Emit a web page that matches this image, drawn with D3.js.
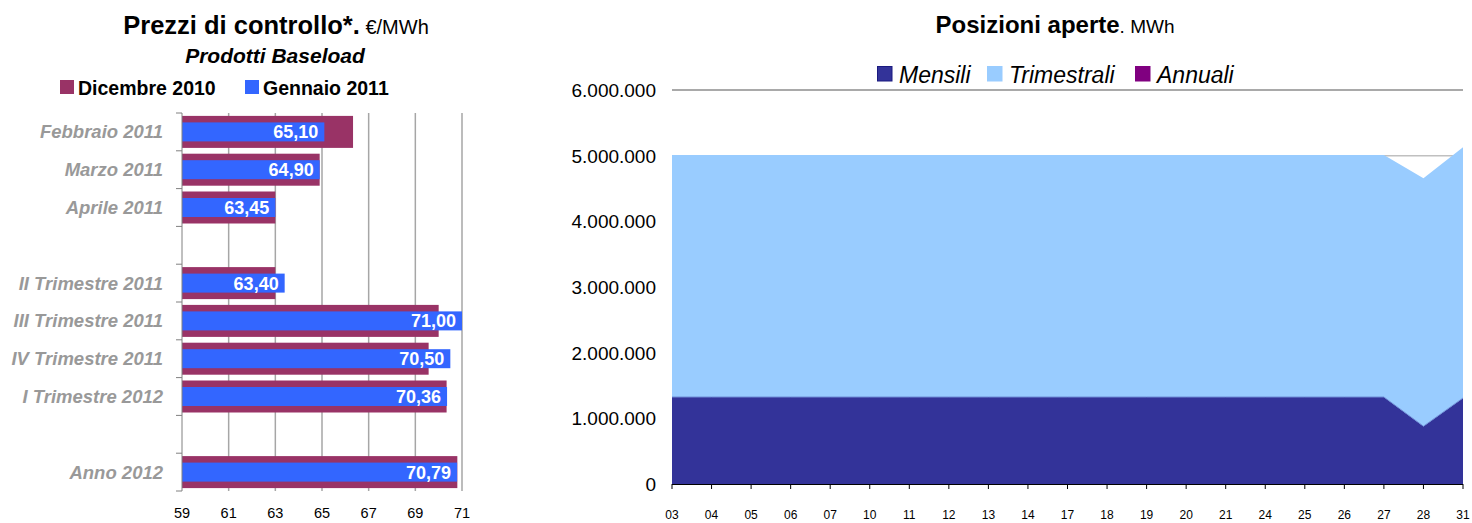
<!DOCTYPE html>
<html><head><meta charset="utf-8">
<script src="https://cdn.jsdelivr.net/npm/d3@7"></script>
<style>body{margin:0;background:#fff}svg{display:block;font-family:"Liberation Sans",Arial,sans-serif}</style>
</head><body>
<svg id="c" width="1472" height="523"></svg>
<script>
// ---- Left chart data ----
const products = ["Febbraio 2011","Marzo 2011","Aprile 2011","","II Trimestre 2011","III Trimestre 2011","IV Trimestre 2011","I Trimestre 2012"," ","Anno 2012"];
const dicembre2010 = [66.33, 64.90, 63.00, null, 63.00, 70.00, 69.57, 70.34, null, 70.80];
const gennaio2011 = [65.10, 64.90, 63.00, null, 63.40, 71.00, 70.50, 70.36, null, 70.79];
const gennaioLabels = ["65,10","64,90","63,45",null,"63,40","71,00","70,50","70,36",null,"70,79"];
const priceTicks = [59, 61, 63, 65, 67, 69, 71];

// ---- Right chart data ----
const days = ["03","04","05","06","07","10","11","12","13","14","17","18","19","20","21","24","25","26","27","28","31"];
const mensili = [1325000,1325000,1325000,1325000,1325000,1325000,1325000,1325000,1325000,1325000,1325000,1325000,1325000,1325000,1325000,1325000,1325000,1325000,1325000,880000,1310000];
const trimestrali = [3685000,3685000,3685000,3685000,3685000,3685000,3685000,3685000,3685000,3685000,3685000,3685000,3685000,3685000,3685000,3685000,3685000,3685000,3685000,3775000,3820000];
const annuali = [0,0,0,0,0,0,0,0,0,0,0,0,0,0,0,0,0,0,0,0,0];
const volumeTicks = [0,1000000,2000000,3000000,4000000,5000000,6000000];

const svg = d3.select("#c");
const fmtIt = v => d3.format(",")(v).replace(/,/g, ".");

// ================= LEFT CHART =================
const L = svg.append("g");
const x = d3.scaleLinear().domain([59, 71]).range([182, 462]);
const y = d3.scaleBand().domain(products).range([113, 491]).padding(0);

// title
const t1 = L.append("text").attr("x", 276).attr("y", 34).attr("text-anchor", "middle");
t1.append("tspan").attr("font-weight", "bold").attr("font-size", 25.5).text("Prezzi di controllo*.");
t1.append("tspan").attr("font-size", 20).text(" €/MWh");
L.append("text").attr("x", 275).attr("y", 63).attr("text-anchor", "middle")
  .attr("font-weight", "bold").attr("font-style", "italic").attr("font-size", 21).text("Prodotti Baseload");

// legend
const legL = [{n:"Dicembre 2010", c:"#993366", x:60}, {n:"Gennaio 2011", c:"#3366FF", x:245}];
legL.forEach(d => {
  L.append("rect").attr("x", d.x).attr("y", 80).attr("width", 14).attr("height", 14).attr("fill", d.c);
  L.append("text").attr("x", d.x + 18).attr("y", 95).attr("font-weight", "bold").attr("font-size", 19.5).text(d.n);
});

// gridlines
L.append("g").selectAll("line").data(priceTicks.slice(1)).join("line")
  .attr("x1", d => x(d)).attr("x2", d => x(d)).attr("y1", 113).attr("y2", 491)
  .attr("stroke", "#a6a6a6").attr("stroke-width", 1.5);

// bars
const bw = y.bandwidth();
L.append("g").selectAll("rect").data(products.map((p,i)=>({p, v:dicembre2010[i]})).filter(d=>d.v!=null)).join("rect")
  .attr("x", x(59)).attr("y", d => y(d.p) + bw/2 - 16).attr("height", 32)
  .attr("width", d => x(d.v) - x(59)).attr("fill", "#993366");
const gd = products.map((p,i)=>({p, v:gennaio2011[i], l:gennaioLabels[i]})).filter(d=>d.v!=null);
L.append("g").selectAll("rect").data(gd).join("rect")
  .attr("x", x(59)).attr("y", d => y(d.p) + bw/2 - 9.5).attr("height", 19)
  .attr("width", d => x(d.v) - x(59)).attr("fill", "#3366FF");
L.append("g").selectAll("text").data(gd).join("text")
  .attr("x", d => x(d.v) - 6).attr("y", d => y(d.p) + bw/2 + 6.5).attr("text-anchor", "end")
  .attr("fill", "#fff").attr("font-weight", "bold").attr("font-size", 18).text(d => d.l);

// left axis
L.append("line").attr("x1", 182).attr("x2", 182).attr("y1", 113).attr("y2", 491).attr("stroke", "#808080").attr("stroke-width", 1);
L.append("g").selectAll("line").data(products.map(p=>y(p)).concat([491])).join("line")
  .attr("x1", 176).attr("x2", 182).attr("y1", d => d).attr("y2", d => d).attr("stroke", "#808080");
L.append("g").selectAll("text").data(products).join("text")
  .attr("x", 163).attr("y", d => y(d) + bw/2 + 6.5).attr("text-anchor", "end")
  .attr("fill", "#999999").attr("font-weight", "bold").attr("font-style", "italic").attr("font-size", 18.5).text(d => d.trim());
// bottom tick labels
L.append("g").selectAll("text").data(priceTicks).join("text")
  .attr("x", d => x(d)).attr("y", 518).attr("text-anchor", "middle").attr("font-size", 14.5).text(d => d);

// ================= RIGHT CHART =================
const R = svg.append("g");
const xs = d3.scalePoint().domain(days).range([672, 1463]);
const ys = d3.scaleLinear().domain([0, 6000000]).range([484, 90]);

const t2 = R.append("text").attr("x", 1055).attr("y", 33).attr("text-anchor", "middle");
t2.append("tspan").attr("font-weight", "bold").attr("font-size", 24).text("Posizioni aperte");
t2.append("tspan").attr("font-size", 19).text(". MWh");

// legend
const legR = [{n:"Mensili", c:"#333399", s:"#1a1a80", x:877}, {n:"Trimestrali", c:"#99CCFF", s:"#99CCFF", x:987}, {n:"Annuali", c:"#800080", s:"#800080", x:1135}];
legR.forEach(d => {
  R.append("rect").attr("x", d.x + 0.5).attr("y", 66.5).attr("width", 14.5).attr("height", 14.5).attr("fill", d.c).attr("stroke", d.s);
  R.append("text").attr("x", d.x + 22).attr("y", 83).attr("font-style", "italic").attr("font-size", 23).text(d.n);
});

// gridlines
R.append("g").selectAll("line").data(volumeTicks.slice(1)).join("line")
  .attr("x1", 672).attr("x2", 1463).attr("y1", d => ys(d)).attr("y2", d => ys(d))
  .attr("stroke", d => d === 6000000 ? "#8c8c8c" : "#c0c0c0").attr("stroke-width", 1.5);

// stacked areas
const rows = days.map((d, i) => ({day: d, Mensili: mensili[i], Trimestrali: trimestrali[i], Annuali: annuali[i]}));
const stack = d3.stack().keys(["Mensili", "Trimestrali", "Annuali"])(rows);
const colors = {Mensili: "#333399", Trimestrali: "#99CCFF", Annuali: "#800080"};
const area = d3.area().x(d => xs(d.data.day)).y0(d => ys(d[0])).y1(d => ys(d[1]));
R.append("g").selectAll("path").data(stack).join("path")
  .attr("d", area).attr("fill", d => colors[d.key]);
// boundary line between Mensili and Trimestrali
R.append("path").datum(stack[0]).attr("fill", "none").attr("stroke", "#6f8fd8").attr("stroke-width", 1)
  .attr("d", d3.line().x(d => xs(d.data.day)).y(d => ys(d[1])));

// y labels
R.append("g").selectAll("text").data(volumeTicks).join("text")
  .attr("x", 656).attr("y", d => ys(d) + 7).attr("text-anchor", "end").attr("font-size", 19).text(d => fmtIt(d));

// x axis
R.append("line").attr("x1", 672).attr("x2", 1463).attr("y1", 484.5).attr("y2", 484.5).attr("stroke", "#000").attr("stroke-width", 1);
R.append("g").selectAll("line").data(days).join("line")
  .attr("x1", d => xs(d)).attr("x2", d => xs(d)).attr("y1", 484).attr("y2", 489).attr("stroke", "#000");
R.append("g").selectAll("text").data(days).join("text")
  .attr("x", d => xs(d)).attr("y", 519).attr("text-anchor", "middle").attr("font-size", 12).text(d => d);
</script>
</body></html>
